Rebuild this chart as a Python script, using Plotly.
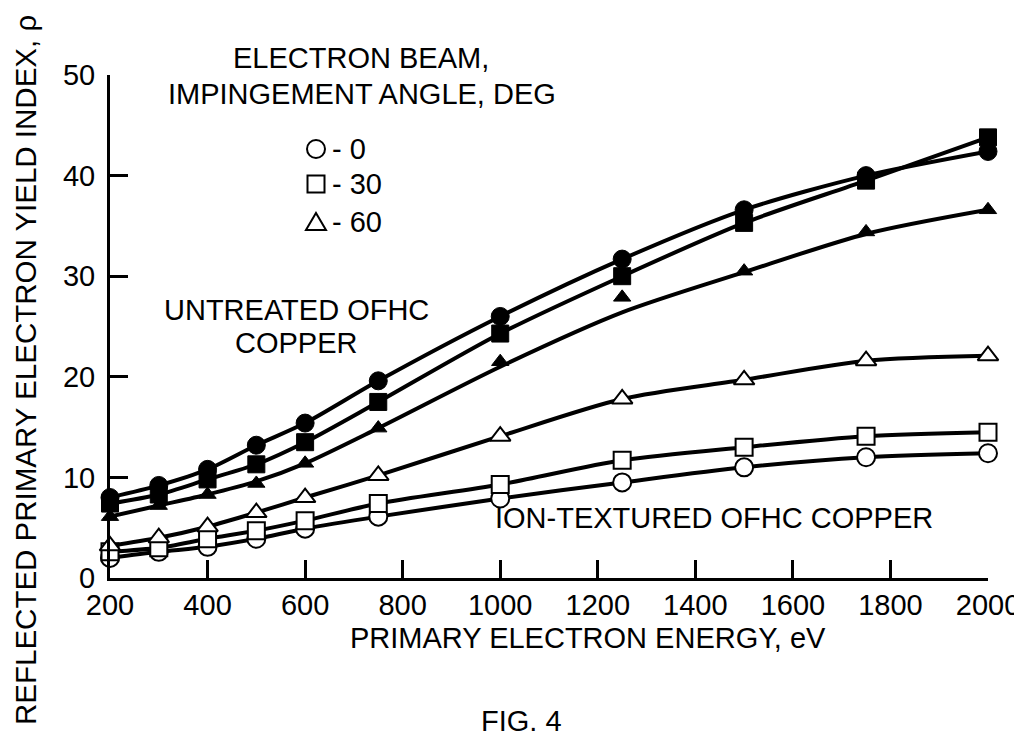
import plotly.graph_objects as go

# ---- data ----
energy_ev = [200, 300, 400, 500, 600, 750, 1000, 1250, 1500, 1750, 2000]

untreated_0deg = [8.0, 9.2, 10.8, 13.2, 15.4, 19.6, 26.0, 31.7, 36.6, 40.0, 42.4]
untreated_30deg = [7.4, 8.3, 9.8, 11.3, 13.5, 17.5, 24.3, 30.0, 35.3, 39.5, 43.8]
untreated_60deg = [6.1, 7.2, 8.3, 9.4, 11.4, 14.9, 21.5, 27.9, 30.5, 34.4, 36.6]
# the drawn (faired) curve through the 60-deg untreated points
untreated_60deg_curve = [6.1, 7.2, 8.3, 9.6, 11.4, 14.9, 21.0, 26.4, 30.4, 34.2, 36.6]

ion_0deg = [2.0, 2.6, 3.1, 3.9, 4.9, 6.1, 7.9, 9.5, 11.0, 12.0, 12.4]
ion_30deg = [2.6, 3.0, 3.9, 4.7, 5.7, 7.4, 9.3, 11.7, 13.0, 14.1, 14.5]
ion_60deg = [3.2, 4.0, 5.1, 6.5, 8.0, 10.2, 14.1, 17.8, 19.7, 21.6, 22.1]

x_ticks = [200, 400, 600, 800, 1000, 1200, 1400, 1600, 1800, 2000]
y_ticks = [0, 10, 20, 30, 40, 50]

angle_labels = ["- 0", "- 30", "- 60"]
angle_symbols = ["circle", "square", "triangle-up"]

FONT = "Liberation Sans, Arial, Helvetica, sans-serif"
FS = 29

# plot-area geometry in pixels
W, H = 1022, 736
L, R, T, B = 102, 42, 67, 166
PW, PH = W - L - R, H - T - B

fig = go.Figure()

ion = [ion_0deg, ion_30deg, ion_60deg]
untreated = [untreated_0deg, untreated_30deg, untreated_60deg]
untreated_curves = [untreated_0deg, untreated_30deg, untreated_60deg_curve]
open_sizes = [18, 17, 18]
filled_sizes = [18, 17, 15]

line_style = dict(color="black", width=4, shape="spline", smoothing=0.8)

for vals, sym, sz in zip(ion, angle_symbols, open_sizes):
    fig.add_trace(go.Scatter(
        x=energy_ev, y=vals, mode="lines+markers", line=line_style,
        marker=dict(symbol=sym, size=sz, color="white",
                    line=dict(color="black", width=2)),
        showlegend=False, cliponaxis=False))

for vals, curve, sym, sz in zip(untreated, untreated_curves, angle_symbols, filled_sizes):
    fig.add_trace(go.Scatter(
        x=energy_ev, y=curve, mode="lines", line=line_style,
        showlegend=False, cliponaxis=False, hoverinfo="skip"))
    fig.add_trace(go.Scatter(
        x=energy_ev, y=vals, mode="markers",
        marker=dict(symbol=sym, size=sz, color="black",
                    line=dict(color="black", width=1)),
        showlegend=False, cliponaxis=False))

axis_common = dict(
    showline=True, linewidth=3, linecolor="black",
    ticks="inside", ticklen=18, tickwidth=2.5, tickcolor="black",
    showgrid=False, zeroline=False, automargin=False,
    tickfont=dict(family=FONT, size=FS, color="black"),
)

fig.update_layout(
    width=W, height=H, autosize=False,
    paper_bgcolor="white", plot_bgcolor="white",
    margin=dict(l=L, r=R, t=T, b=B),
    xaxis=dict(range=[200, 2000], tickvals=x_ticks, ticklabelstandoff=-1,
               **axis_common),
    yaxis=dict(range=[0, 50], tickvals=y_ticks, ticklabelstandoff=6,
               **axis_common),
    font=dict(family=FONT, size=FS, color="black"),
    showlegend=False,
)


def px_x(p):
    return (p - L) / PW


def px_y(p):
    return (H - B - p) / PH


# legend key drawn as layout shapes + text
key_x = 308
key_ys = [141, 176, 214]
r = 9
for sym, lab, ky in zip(angle_symbols, angle_labels, key_ys):
    if sym == "circle":
        fig.add_shape(type="circle", xref="paper", yref="paper",
                      x0=px_x(key_x - r), x1=px_x(key_x + r),
                      y0=px_y(ky + r), y1=px_y(ky - r),
                      line=dict(color="black", width=2), fillcolor="white")
    elif sym == "square":
        fig.add_shape(type="rect", xref="paper", yref="paper",
                      x0=px_x(key_x - 8.5), x1=px_x(key_x + 8.5),
                      y0=px_y(ky + 8.5), y1=px_y(ky - 8.5),
                      line=dict(color="black", width=2), fillcolor="white")
    else:
        path = "M {:.4f} {:.4f} L {:.4f} {:.4f} L {:.4f} {:.4f} Z".format(
            px_x(key_x - 10), px_y(ky + 8),
            px_x(key_x + 10), px_y(ky + 8),
            px_x(key_x), px_y(ky - 9))
        fig.add_shape(type="path", xref="paper", yref="paper", path=path,
                      line=dict(color="black", width=2), fillcolor="white")
    fig.add_annotation(text=lab, x=px_x(322), y=px_y(ky), xref="paper",
                       yref="paper", xanchor="left", yanchor="middle",
                       showarrow=False,
                       font=dict(family=FONT, size=FS, color="black"))

annos = [
    ("ELECTRON BEAM,", 353, 50, 0, FS),
    ("IMPINGEMENT ANGLE, DEG", 354, 86, 0, FS),
    ("UNTREATED OFHC", 288, 302, 0, FS),
    ("COPPER", 288, 335, 0, FS),
    ("ION-TEXTURED OFHC COPPER", 706, 510, 0, FS),
    ("PRIMARY ELECTRON ENERGY, eV", 580, 630, 0, FS),
    ("FIG. 4", 513, 713, 0, FS),
    ("REFLECTED PRIMARY ELECTRON YIELD INDEX, ρ", 17, 362, -90, 29.5),
]
for text, ax, ay, ang, fs in annos:
    fig.add_annotation(
        text=text, x=px_x(ax), y=px_y(ay), xref="paper", yref="paper",
        xanchor="center", yanchor="middle", showarrow=False, textangle=ang,
        font=dict(family=FONT, size=fs, color="black"))

fig.write_html("out.html")
